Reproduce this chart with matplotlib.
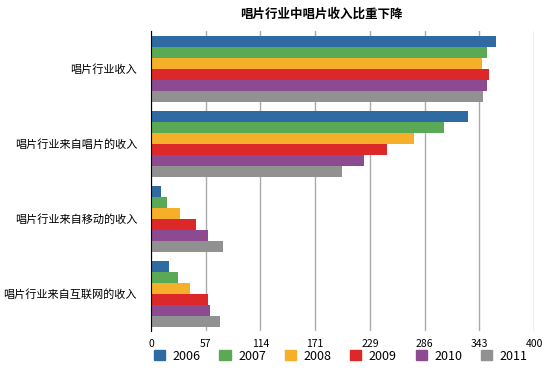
import numpy as np
import matplotlib
matplotlib.use('Agg')
from matplotlib import pyplot as plt
from matplotlib.patches import Patch

plt.rcParams['font.family'] = ['Noto Sans CJK SC', 'DejaVu Sans']

categories = ['唱片行业收入', '唱片行业来自唱片的收入', '唱片行业来自移动的收入', '唱片行业来自互联网的收入']
years = ['2006', '2007', '2008', '2009', '2010', '2011']
v2006 = [360, 331, 10, 19]
v2007 = [351, 306, 17, 28]
v2008 = [346, 275, 30, 41]
v2009 = [353, 246, 47, 59]
v2010 = [351, 222, 59, 62]
v2011 = [347, 199, 75, 72]
ticks = [0, 400/7, 800/7, 1200/7, 1600/7, 2000/7, 2400/7, 400]
tick_labels = ['0', '57', '114', '171', '229', '286', '343', '400']
colors = ['#2D6BA2', '#5AAA55', '#F5AF28', '#DC2828', '#8C4B91', '#919191']

series = [v2006, v2007, v2008, v2009, v2010, v2011]

fig = plt.figure(figsize=(5.56, 3.72), dpi=100)
ax = fig.add_axes([0.2716, 0.110, 0.689, 0.806])

n = len(series)
bh = 0.88 / n
y = np.arange(len(categories))
for i, vals in enumerate(series):
    ax.barh(y - 0.44 + bh * (i + 0.5), vals, height=bh, color=colors[i], zorder=3)

ax.set_xlim(0, 400)
ax.set_ylim(len(categories) - 0.5, -0.5)
ax.set_xticks(ticks)
ax.set_xticklabels(tick_labels, fontsize=7.5)
ax.set_yticks(y)
ax.set_yticklabels(categories, fontsize=8)
ax.tick_params(axis='both', length=0, pad=10)
ax.tick_params(axis='x', pad=6)
ax.grid(axis='x', color='#aaaaaa', linewidth=1, zorder=0)
for s in ['top', 'right', 'bottom']:
    ax.spines[s].set_visible(False)
ax.spines['left'].set_color('black')
ax.spines['left'].set_zorder(4)

fig.text(321 / 556, 1 - 14 / 372, '唱片行业中唱片收入比重下降', fontsize=9, fontweight='bold',
         ha='center', va='center')

handles = [Patch(color=c) for c in colors]
fig.legend(handles, years, loc='lower center', bbox_to_anchor=(0.613, -0.005), ncol=6,
           frameon=False, fontsize=9, handlelength=0.9, handleheight=0.9,
           handletextpad=0.6, columnspacing=1.5)

plt.savefig('out.png', dpi=100)
